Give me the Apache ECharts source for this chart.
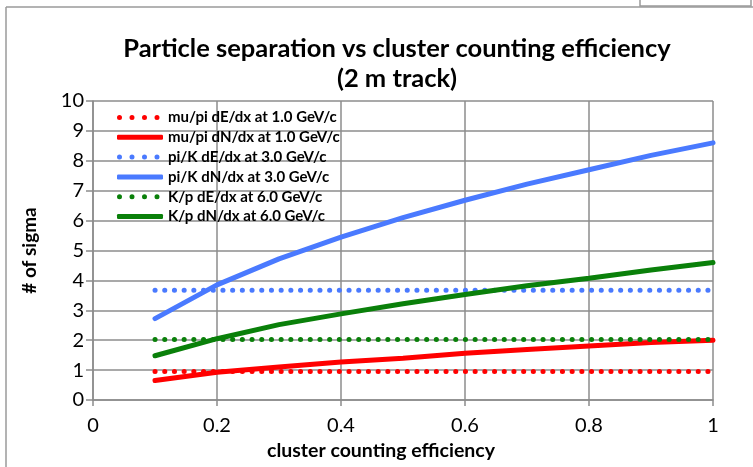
<!DOCTYPE html>
<html>
<head>
<meta charset="utf-8">
<script src="https://cdn.jsdelivr.net/npm/echarts@6/dist/echarts.min.js"></script>
<style>
  html, body { margin: 0; padding: 0; background: #fff; }
  #chart { width: 753px; height: 467px; }
</style>
</head>
<body>
<div id="chart"></div>
<script>
// efficiency points (x)
var efficiency = [0.1, 0.2, 0.3, 0.4, 0.5, 0.6, 0.7, 0.8, 0.9, 1.0];

// dE/dx reference levels (flat)
var muPiDEdx = [0.95, 0.95, 0.95, 0.95, 0.95, 0.95, 0.95, 0.95, 0.95, 0.95];
var piKDEdx  = [3.67, 3.67, 3.67, 3.67, 3.67, 3.67, 3.67, 3.67, 3.67, 3.67];
var kPDEdx   = [2.02, 2.02, 2.02, 2.02, 2.02, 2.02, 2.02, 2.02, 2.02, 2.02];

// dN/dx vs efficiency
var muPiDNdx = [0.65, 0.93, 1.1, 1.27, 1.4, 1.56, 1.69, 1.81, 1.92, 2.0];
var piKDNdx  = [2.72, 3.85, 4.72, 5.45, 6.1, 6.68, 7.22, 7.7, 8.18, 8.6];
var kPDNdx   = [1.48, 2.05, 2.52, 2.88, 3.22, 3.53, 3.82, 4.07, 4.35, 4.6];

var names = [
  'mu/pi dE/dx at 1.0 GeV/c',
  'mu/pi dN/dx at 1.0 GeV/c',
  'pi/K dE/dx at 3.0 GeV/c',
  'pi/K dN/dx at 3.0 GeV/c',
  'K/p dE/dx at 6.0 GeV/c',
  'K/p dN/dx at 6.0 GeV/c'
];

var RED = '#ff0000', BLUE = '#4a7aff', GREEN = '#0a800a';
var FONT = 'Lato, "Open Sans", sans-serif';
var GRID = '#8c8c8c';

// legend icons: four dots (with an empty point at the far end to keep the width) / a thick bar
function dot(cx) {
  return 'M' + (cx - 2.5) + ',2.5A2.5,2.5,0,1,1,' + (cx + 2.5) + ',2.5A2.5,2.5,0,1,1,' + (cx - 2.5) + ',2.5Z';
}
var DOTS_ICON = 'path://' + dot(2.5) + dot(15) + dot(27.5) + dot(40) + 'M46,0L46,0M46,5L46,5';
var BAR_ICON = 'roundRect';

function pairs(vals) {
  return efficiency.map(function (x, i) { return [x, vals[i]]; });
}

function dotted(name, vals, color) {
  return {
    name: name, type: 'line', data: pairs(vals), symbol: 'none', silent: true,
    lineStyle: { color: color, width: 5, type: [0.1, 9.6], cap: 'round' },
    itemStyle: { color: color }
  };
}
function solid(name, vals, color) {
  return {
    name: name, type: 'line', data: pairs(vals), symbol: 'none', silent: true,
    lineStyle: { color: color, width: 5, cap: 'round' },
    itemStyle: { color: color }
  };
}

var chart = echarts.init(document.getElementById('chart'));
var option = {
  animation: false,
  title: {
    text: 'Particle separation vs cluster counting efficiency\n(2 m track)',
    left: 392, top: 29, textAlign: 'center',
    textStyle: { fontFamily: FONT, fontWeight: 'bold', fontSize: 25.5, lineHeight: 30, color: '#000' }
  },
  legend: {
    orient: 'vertical', left: 112, top: 105,
    itemWidth: 46, itemHeight: 5, itemGap: 4.8,
    itemStyle: { borderWidth: 0 },
    data: names.map(function (n, i) {
      return { name: n, icon: i % 2 === 0 ? DOTS_ICON : BAR_ICON };
    }),
    textStyle: { fontFamily: FONT, fontWeight: 'bold', fontSize: 15, color: '#000' }
  },
  grid: { left: 93, right: 40, top: 101, bottom: 67 },
  xAxis: {
    type: 'value', min: 0, max: 1, interval: 0.2,
    name: 'cluster counting efficiency', nameLocation: 'middle', nameGap: 38,
    nameTextStyle: { fontFamily: FONT, fontWeight: 'bold', fontSize: 19.5, color: '#000', padding: [0, 44, 0, 0] },
    axisLine: { lineStyle: { color: GRID, width: 1.5 } },
    axisTick: { show: true, length: 6, lineStyle: { color: GRID, width: 1.5 } },
    axisLabel: { fontFamily: FONT, fontSize: 20, color: '#000', margin: 16 },
    splitLine: { show: true, lineStyle: { color: GRID, width: 1.5 } }
  },
  yAxis: {
    type: 'value', min: 0, max: 10, interval: 1,
    name: '# of sigma', nameLocation: 'middle', nameGap: 54,
    nameTextStyle: { fontFamily: FONT, fontWeight: 'bold', fontSize: 19, color: '#000' },
    axisLine: { show: true, lineStyle: { color: GRID, width: 1.5 } },
    axisTick: { show: true, length: 7, lineStyle: { color: GRID, width: 1.5 } },
    axisLabel: { fontFamily: FONT, fontSize: 20, color: '#000', margin: 9 },
    splitLine: { show: true, lineStyle: { color: GRID, width: 1.5 } }
  },
  graphic: [
    { type: 'line', shape: { x1: 6, y1: 7, x2: 6, y2: 467 }, style: { stroke: '#9a9a9a', lineWidth: 1.5 } },
    { type: 'line', shape: { x1: 6, y1: 7, x2: 753, y2: 7 }, style: { stroke: '#9a9a9a', lineWidth: 1.5 } },
    { type: 'rect', shape: { x: 640, y: -2, width: 111, height: 8 }, style: { fill: 'none', stroke: '#9a9a9a', lineWidth: 1.5 } }
  ],
  series: [
    dotted(names[0], muPiDEdx, RED),
    solid(names[1], muPiDNdx, RED),
    dotted(names[2], piKDEdx, BLUE),
    solid(names[3], piKDNdx, BLUE),
    dotted(names[4], kPDEdx, GREEN),
    solid(names[5], kPDNdx, GREEN)
  ]
};
chart.setOption(option);
</script>
</body>
</html>
